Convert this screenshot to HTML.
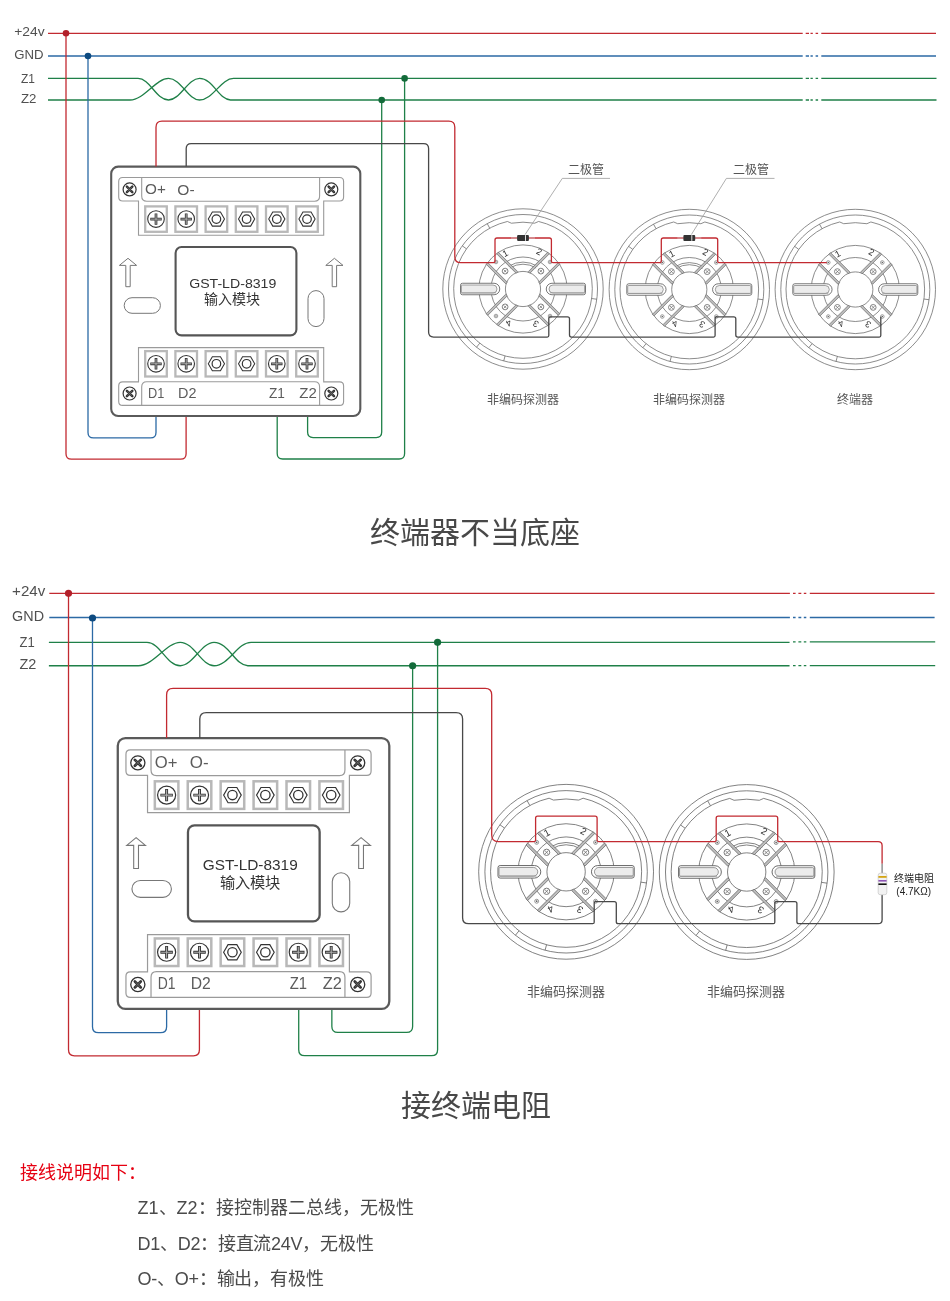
<!DOCTYPE html><html lang="zh-CN"><head><meta charset="utf-8"><title>wiring</title><style>html,body{margin:0;padding:0;background:#fff;}svg{display:block;will-change:transform}</style></head><body>
<svg width="950" height="1301" viewBox="0 0 950 1301">
<defs><g id="det"><circle r="80.2" fill="none" stroke="#666" stroke-width="0.75"/><circle r="74.5" fill="none" stroke="#666" stroke-width="0.75"/><path d="M15.59,-67.52 A69.30,69.30 0 1 1 -15.59,-67.52 L-11.60,-65.79 A66.80,66.80 0 0 1 11.60,-65.79 Z" fill="none" stroke="#666" stroke-width="0.75"/><line x1="-56.49" y1="-40.14" x2="-60.73" y2="-43.16" fill="none" stroke="#666" stroke-width="0.75"/><line x1="-33.28" y1="-60.79" x2="-35.78" y2="-65.35" fill="none" stroke="#666" stroke-width="0.75"/><line x1="68.64" y1="9.52" x2="73.79" y2="10.24" fill="none" stroke="#666" stroke-width="0.75"/><line x1="-17.94" y1="66.94" x2="-19.28" y2="71.96" fill="none" stroke="#666" stroke-width="0.75"/><line x1="-43.23" y1="54.16" x2="-46.48" y2="58.22" fill="none" stroke="#666" stroke-width="0.75"/><circle r="44.1" fill="none" stroke="#666" stroke-width="0.75"/><circle r="32" fill="none" stroke="#666" stroke-width="0.75"/><circle r="17.6" fill="#fff" stroke="#666" stroke-width="0.75"/><path d="M-13.14,-21.03 A24.80,24.80 0 0 1 13.14,-21.03" fill="none" stroke="#666" stroke-width="0.75"/><path d="M-14.25,-22.81 A26.90,26.90 0 0 1 14.25,-22.81" fill="none" stroke="#666" stroke-width="0.75"/><polygon points="-6.87,-15.71 -26.32,-35.16 -24.70,-36.79 -5.25,-17.34" fill="#bdbdbd" stroke="#555" stroke-width="0.6"/><polygon points="-17.34,-5.25 -36.79,-24.70 -35.16,-26.32 -15.71,-6.87" fill="#bdbdbd" stroke="#555" stroke-width="0.6"/><circle cx="-17.89" cy="-17.89" r="2.9" fill="#fff" stroke="#666" stroke-width="0.8"/><path d="M-19.39,-19.39 l3,3 m0,-3 l-3,3" stroke="#666" stroke-width="0.7"/><circle cx="-27.01" cy="-27.01" r="1.8" fill="#fff" stroke="#777" stroke-width="0.7"/><circle cx="-27.01" cy="-27.01" r="0.8" fill="#666"/><polygon points="15.71,-6.87 35.16,-26.32 36.79,-24.70 17.34,-5.25" fill="#bdbdbd" stroke="#555" stroke-width="0.6"/><polygon points="5.25,-17.34 24.70,-36.79 26.32,-35.16 6.87,-15.71" fill="#bdbdbd" stroke="#555" stroke-width="0.6"/><circle cx="17.89" cy="-17.89" r="2.9" fill="#fff" stroke="#666" stroke-width="0.8"/><path d="M16.39,-19.39 l3,3 m0,-3 l-3,3" stroke="#666" stroke-width="0.7"/><circle cx="27.01" cy="-27.01" r="1.8" fill="#fff" stroke="#777" stroke-width="0.7"/><circle cx="27.01" cy="-27.01" r="0.8" fill="#666"/><polygon points="6.87,15.71 26.32,35.16 24.70,36.79 5.25,17.34" fill="#bdbdbd" stroke="#555" stroke-width="0.6"/><polygon points="17.34,5.25 36.79,24.70 35.16,26.32 15.71,6.87" fill="#bdbdbd" stroke="#555" stroke-width="0.6"/><circle cx="17.89" cy="17.89" r="2.9" fill="#fff" stroke="#666" stroke-width="0.8"/><path d="M16.39,16.39 l3,3 m0,-3 l-3,3" stroke="#666" stroke-width="0.7"/><circle cx="27.01" cy="27.01" r="1.8" fill="#fff" stroke="#777" stroke-width="0.7"/><circle cx="27.01" cy="27.01" r="0.8" fill="#666"/><polygon points="-15.71,6.87 -35.16,26.32 -36.79,24.70 -17.34,5.25" fill="#bdbdbd" stroke="#555" stroke-width="0.6"/><polygon points="-5.25,17.34 -24.70,36.79 -26.32,35.16 -6.87,15.71" fill="#bdbdbd" stroke="#555" stroke-width="0.6"/><circle cx="-17.89" cy="17.89" r="2.9" fill="#fff" stroke="#666" stroke-width="0.8"/><path d="M-19.39,16.39 l3,3 m0,-3 l-3,3" stroke="#666" stroke-width="0.7"/><circle cx="-27.01" cy="27.01" r="1.8" fill="#fff" stroke="#777" stroke-width="0.7"/><circle cx="-27.01" cy="27.01" r="0.8" fill="#666"/><path d="M29,-5.75 H60.5 Q62.5,-5.75 62.5,-3.75 V3.75 Q62.5,5.75 60.5,5.75 H29 A5.75,5.75 0 0 1 29,-5.75 Z" fill="#fff" stroke="#555" stroke-width="0.8"/><path d="M30,-4 H60.6 Q61.6,-4 61.6,-3 V3 Q61.6,4 60.6,4 H30 A4,4 0 0 1 30,-4 Z" fill="#ececec" stroke="#666" stroke-width="0.6"/><path d="M27,3.9 H61.5" stroke="#999" stroke-width="0.8"/><g transform="scale(-1,1)"><path d="M29,-5.75 H60.5 Q62.5,-5.75 62.5,-3.75 V3.75 Q62.5,5.75 60.5,5.75 H29 A5.75,5.75 0 0 1 29,-5.75 Z" fill="#fff" stroke="#555" stroke-width="0.8"/><path d="M30,-4 H60.6 Q61.6,-4 61.6,-3 V3 Q61.6,4 60.6,4 H30 A4,4 0 0 1 30,-4 Z" fill="#ececec" stroke="#666" stroke-width="0.6"/><path d="M27,3.9 H61.5" stroke="#999" stroke-width="0.8"/></g><text transform="translate(-16.2,-33) rotate(-28)" font-family='"Liberation Sans", sans-serif' font-size="9" fill="#333" text-anchor="middle">1</text><text transform="translate(14.6,-34.5) rotate(28)" font-family='"Liberation Sans", sans-serif' font-size="9" fill="#333" text-anchor="middle">2</text><text transform="translate(-15.7,31.5) rotate(152)" font-family='"Liberation Sans", sans-serif' font-size="9" fill="#333" text-anchor="middle">4</text><text transform="translate(14.3,32) rotate(-152)" font-family='"Liberation Sans", sans-serif' font-size="9" fill="#333" text-anchor="middle">3</text></g><g id="det3"><circle r="80.2" fill="none" stroke="#666" stroke-width="0.75"/><circle r="74.5" fill="none" stroke="#666" stroke-width="0.75"/><path d="M15.59,-67.52 A69.30,69.30 0 1 1 -15.59,-67.52 L-11.60,-65.79 A66.80,66.80 0 0 1 11.60,-65.79 Z" fill="none" stroke="#666" stroke-width="0.75"/><line x1="-56.49" y1="-40.14" x2="-60.73" y2="-43.16" fill="none" stroke="#666" stroke-width="0.75"/><line x1="-33.28" y1="-60.79" x2="-35.78" y2="-65.35" fill="none" stroke="#666" stroke-width="0.75"/><line x1="68.64" y1="9.52" x2="73.79" y2="10.24" fill="none" stroke="#666" stroke-width="0.75"/><line x1="-17.94" y1="66.94" x2="-19.28" y2="71.96" fill="none" stroke="#666" stroke-width="0.75"/><line x1="-43.23" y1="54.16" x2="-46.48" y2="58.22" fill="none" stroke="#666" stroke-width="0.75"/><circle r="44.1" fill="none" stroke="#666" stroke-width="0.75"/><circle r="32" fill="none" stroke="#666" stroke-width="0.75"/><circle r="17.6" fill="#fff" stroke="#666" stroke-width="0.75"/><polygon points="-6.87,-15.71 -26.32,-35.16 -24.70,-36.79 -5.25,-17.34" fill="#bdbdbd" stroke="#555" stroke-width="0.6"/><polygon points="-17.34,-5.25 -36.79,-24.70 -35.16,-26.32 -15.71,-6.87" fill="#bdbdbd" stroke="#555" stroke-width="0.6"/><circle cx="-17.89" cy="-17.89" r="2.9" fill="#fff" stroke="#666" stroke-width="0.8"/><path d="M-19.39,-19.39 l3,3 m0,-3 l-3,3" stroke="#666" stroke-width="0.7"/><circle cx="-27.01" cy="-27.01" r="1.8" fill="#fff" stroke="#777" stroke-width="0.7"/><circle cx="-27.01" cy="-27.01" r="0.8" fill="#666"/><polygon points="15.71,-6.87 35.16,-26.32 36.79,-24.70 17.34,-5.25" fill="#bdbdbd" stroke="#555" stroke-width="0.6"/><polygon points="5.25,-17.34 24.70,-36.79 26.32,-35.16 6.87,-15.71" fill="#bdbdbd" stroke="#555" stroke-width="0.6"/><circle cx="17.89" cy="-17.89" r="2.9" fill="#fff" stroke="#666" stroke-width="0.8"/><path d="M16.39,-19.39 l3,3 m0,-3 l-3,3" stroke="#666" stroke-width="0.7"/><circle cx="27.01" cy="-27.01" r="1.8" fill="#fff" stroke="#777" stroke-width="0.7"/><circle cx="27.01" cy="-27.01" r="0.8" fill="#666"/><polygon points="6.87,15.71 26.32,35.16 24.70,36.79 5.25,17.34" fill="#bdbdbd" stroke="#555" stroke-width="0.6"/><polygon points="17.34,5.25 36.79,24.70 35.16,26.32 15.71,6.87" fill="#bdbdbd" stroke="#555" stroke-width="0.6"/><circle cx="17.89" cy="17.89" r="2.9" fill="#fff" stroke="#666" stroke-width="0.8"/><path d="M16.39,16.39 l3,3 m0,-3 l-3,3" stroke="#666" stroke-width="0.7"/><circle cx="27.01" cy="27.01" r="1.8" fill="#fff" stroke="#777" stroke-width="0.7"/><circle cx="27.01" cy="27.01" r="0.8" fill="#666"/><polygon points="-15.71,6.87 -35.16,26.32 -36.79,24.70 -17.34,5.25" fill="#bdbdbd" stroke="#555" stroke-width="0.6"/><polygon points="-5.25,17.34 -24.70,36.79 -26.32,35.16 -6.87,15.71" fill="#bdbdbd" stroke="#555" stroke-width="0.6"/><circle cx="-17.89" cy="17.89" r="2.9" fill="#fff" stroke="#666" stroke-width="0.8"/><path d="M-19.39,16.39 l3,3 m0,-3 l-3,3" stroke="#666" stroke-width="0.7"/><circle cx="-27.01" cy="27.01" r="1.8" fill="#fff" stroke="#777" stroke-width="0.7"/><circle cx="-27.01" cy="27.01" r="0.8" fill="#666"/><path d="M29,-5.75 H60.5 Q62.5,-5.75 62.5,-3.75 V3.75 Q62.5,5.75 60.5,5.75 H29 A5.75,5.75 0 0 1 29,-5.75 Z" fill="#fff" stroke="#555" stroke-width="0.8"/><path d="M30,-4 H60.6 Q61.6,-4 61.6,-3 V3 Q61.6,4 60.6,4 H30 A4,4 0 0 1 30,-4 Z" fill="#ececec" stroke="#666" stroke-width="0.6"/><path d="M27,3.9 H61.5" stroke="#999" stroke-width="0.8"/><g transform="scale(-1,1)"><path d="M29,-5.75 H60.5 Q62.5,-5.75 62.5,-3.75 V3.75 Q62.5,5.75 60.5,5.75 H29 A5.75,5.75 0 0 1 29,-5.75 Z" fill="#fff" stroke="#555" stroke-width="0.8"/><path d="M30,-4 H60.6 Q61.6,-4 61.6,-3 V3 Q61.6,4 60.6,4 H30 A4,4 0 0 1 30,-4 Z" fill="#ececec" stroke="#666" stroke-width="0.6"/><path d="M27,3.9 H61.5" stroke="#999" stroke-width="0.8"/></g><text transform="translate(-16.2,-33) rotate(-28)" font-family='"Liberation Sans", sans-serif' font-size="9" fill="#333" text-anchor="middle">1</text><text transform="translate(14.6,-34.5) rotate(28)" font-family='"Liberation Sans", sans-serif' font-size="9" fill="#333" text-anchor="middle">2</text><text transform="translate(-15.7,31.5) rotate(152)" font-family='"Liberation Sans", sans-serif' font-size="9" fill="#333" text-anchor="middle">4</text><text transform="translate(14.3,32) rotate(-152)" font-family='"Liberation Sans", sans-serif' font-size="9" fill="#333" text-anchor="middle">3</text></g><g id="mod"><g><rect x="111.20" y="166.60" width="249.10" height="249.40" rx="7" fill="#fff" stroke="#5a5a5a" stroke-width="2.1"/><path d="M122.7,177.5 H339.6 Q343.6,177.5 343.6,181.5 V197 Q343.6,201 339.6,201 H323.7 V235.3 H138.5 V201 H122.7 Q118.7,201 118.7,197 V181.5 Q118.7,177.5 122.7,177.5 Z" fill="none" stroke="#9a9a9a" stroke-width="1.1"/><path d="M141.7,177.5 V196 Q141.7,201.2 146.7,201.2 H314.6 Q319.6,201.2 319.6,196 V177.5" fill="none" stroke="#9a9a9a" stroke-width="1.1"/><path d="M122.7,405.40 H339.6 Q343.6,405.40 343.6,401.40 V385.90 Q343.6,381.90 339.6,381.90 H323.7 V347.60 H138.5 V381.90 H122.7 Q118.7,381.90 118.7,385.90 V401.40 Q118.7,405.40 122.7,405.40 Z" fill="none" stroke="#9a9a9a" stroke-width="1.1"/><path d="M141.7,405.40 V386.90 Q141.7,381.70 146.7,381.70 H314.6 Q319.6,381.70 319.6,386.90 V405.40" fill="none" stroke="#9a9a9a" stroke-width="1.1"/><circle cx="129.60" cy="189.40" r="6.5" fill="#fff" stroke="#333" stroke-width="1.2"/><path d="M126.90,186.70 L132.30,192.10 M126.90,192.10 L132.30,186.70" stroke="#333" stroke-width="2.5" stroke-linecap="round"/><path d="M127.40,187.20 L131.80,191.60 M127.40,191.60 L131.80,187.20" stroke="#777" stroke-width="0.7"/><circle cx="331.30" cy="189.40" r="6.5" fill="#fff" stroke="#333" stroke-width="1.2"/><path d="M328.60,186.70 L334.00,192.10 M328.60,192.10 L334.00,186.70" stroke="#333" stroke-width="2.5" stroke-linecap="round"/><path d="M329.10,187.20 L333.50,191.60 M329.10,191.60 L333.50,187.20" stroke="#777" stroke-width="0.7"/><circle cx="129.60" cy="393.50" r="6.5" fill="#fff" stroke="#333" stroke-width="1.2"/><path d="M126.90,390.80 L132.30,396.20 M126.90,396.20 L132.30,390.80" stroke="#333" stroke-width="2.5" stroke-linecap="round"/><path d="M127.40,391.30 L131.80,395.70 M127.40,395.70 L131.80,391.30" stroke="#777" stroke-width="0.7"/><circle cx="331.30" cy="393.50" r="6.5" fill="#fff" stroke="#333" stroke-width="1.2"/><path d="M328.60,390.80 L334.00,396.20 M328.60,396.20 L334.00,390.80" stroke="#333" stroke-width="2.5" stroke-linecap="round"/><path d="M329.10,391.30 L333.50,395.70 M329.10,395.70 L333.50,391.30" stroke="#777" stroke-width="0.7"/><rect x="145.20" y="206.40" width="21.6" height="25.4" fill="#fff" stroke="#b8b8b8" stroke-width="2.3"/><circle cx="156.00" cy="219.10" r="8.3" fill="#fff" stroke="#333" stroke-width="1.1"/><path d="M150.30,219.10 h11.4 M156.00,213.40 v11.4" stroke="#333" stroke-width="2.7"/><path d="M151.00,219.10 h10 M156.00,214.10 v10" stroke="#b0b0b0" stroke-width="1"/><rect x="145.20" y="351.10" width="21.6" height="25.4" fill="#fff" stroke="#b8b8b8" stroke-width="2.3"/><circle cx="156.00" cy="363.80" r="8.3" fill="#fff" stroke="#333" stroke-width="1.1"/><path d="M150.30,363.80 h11.4 M156.00,358.10 v11.4" stroke="#333" stroke-width="2.7"/><path d="M151.00,363.80 h10 M156.00,358.80 v10" stroke="#b0b0b0" stroke-width="1"/><rect x="175.40" y="206.40" width="21.6" height="25.4" fill="#fff" stroke="#b8b8b8" stroke-width="2.3"/><circle cx="186.20" cy="219.10" r="8.3" fill="#fff" stroke="#333" stroke-width="1.1"/><path d="M180.50,219.10 h11.4 M186.20,213.40 v11.4" stroke="#333" stroke-width="2.7"/><path d="M181.20,219.10 h10 M186.20,214.10 v10" stroke="#b0b0b0" stroke-width="1"/><rect x="175.40" y="351.10" width="21.6" height="25.4" fill="#fff" stroke="#b8b8b8" stroke-width="2.3"/><circle cx="186.20" cy="363.80" r="8.3" fill="#fff" stroke="#333" stroke-width="1.1"/><path d="M180.50,363.80 h11.4 M186.20,358.10 v11.4" stroke="#333" stroke-width="2.7"/><path d="M181.20,363.80 h10 M186.20,358.80 v10" stroke="#b0b0b0" stroke-width="1"/><rect x="205.60" y="206.40" width="21.6" height="25.4" fill="#fff" stroke="#b8b8b8" stroke-width="2.3"/><polygon points="208.30,219.10 212.35,212.09 220.45,212.09 224.50,219.10 220.45,226.11 212.35,226.11" fill="#fff" stroke="#333" stroke-width="1.05"/><circle cx="216.40" cy="219.10" r="4.3" fill="none" stroke="#333" stroke-width="1.2"/><rect x="205.60" y="351.10" width="21.6" height="25.4" fill="#fff" stroke="#b8b8b8" stroke-width="2.3"/><polygon points="208.30,363.80 212.35,356.79 220.45,356.79 224.50,363.80 220.45,370.81 212.35,370.81" fill="#fff" stroke="#333" stroke-width="1.05"/><circle cx="216.40" cy="363.80" r="4.3" fill="none" stroke="#333" stroke-width="1.2"/><rect x="235.80" y="206.40" width="21.6" height="25.4" fill="#fff" stroke="#b8b8b8" stroke-width="2.3"/><polygon points="238.50,219.10 242.55,212.09 250.65,212.09 254.70,219.10 250.65,226.11 242.55,226.11" fill="#fff" stroke="#333" stroke-width="1.05"/><circle cx="246.60" cy="219.10" r="4.3" fill="none" stroke="#333" stroke-width="1.2"/><rect x="235.80" y="351.10" width="21.6" height="25.4" fill="#fff" stroke="#b8b8b8" stroke-width="2.3"/><polygon points="238.50,363.80 242.55,356.79 250.65,356.79 254.70,363.80 250.65,370.81 242.55,370.81" fill="#fff" stroke="#333" stroke-width="1.05"/><circle cx="246.60" cy="363.80" r="4.3" fill="none" stroke="#333" stroke-width="1.2"/><rect x="266.00" y="206.40" width="21.6" height="25.4" fill="#fff" stroke="#b8b8b8" stroke-width="2.3"/><polygon points="268.70,219.10 272.75,212.09 280.85,212.09 284.90,219.10 280.85,226.11 272.75,226.11" fill="#fff" stroke="#333" stroke-width="1.05"/><circle cx="276.80" cy="219.10" r="4.3" fill="none" stroke="#333" stroke-width="1.2"/><rect x="266.00" y="351.10" width="21.6" height="25.4" fill="#fff" stroke="#b8b8b8" stroke-width="2.3"/><circle cx="276.80" cy="363.80" r="8.3" fill="#fff" stroke="#333" stroke-width="1.1"/><path d="M271.10,363.80 h11.4 M276.80,358.10 v11.4" stroke="#333" stroke-width="2.7"/><path d="M271.80,363.80 h10 M276.80,358.80 v10" stroke="#b0b0b0" stroke-width="1"/><rect x="296.20" y="206.40" width="21.6" height="25.4" fill="#fff" stroke="#b8b8b8" stroke-width="2.3"/><polygon points="298.90,219.10 302.95,212.09 311.05,212.09 315.10,219.10 311.05,226.11 302.95,226.11" fill="#fff" stroke="#333" stroke-width="1.05"/><circle cx="307.00" cy="219.10" r="4.3" fill="none" stroke="#333" stroke-width="1.2"/><rect x="296.20" y="351.10" width="21.6" height="25.4" fill="#fff" stroke="#b8b8b8" stroke-width="2.3"/><circle cx="307.00" cy="363.80" r="8.3" fill="#fff" stroke="#333" stroke-width="1.1"/><path d="M301.30,363.80 h11.4 M307.00,358.10 v11.4" stroke="#333" stroke-width="2.7"/><path d="M302.00,363.80 h10 M307.00,358.80 v10" stroke="#b0b0b0" stroke-width="1"/><text x="145.11" y="193.80" textLength="20.78" lengthAdjust="spacingAndGlyphs" font-family='"Liberation Sans", sans-serif' font-size="14.80" fill="#5c5c5c" >O+</text><text x="177.31" y="194.60" textLength="17.28" lengthAdjust="spacingAndGlyphs" font-family='"Liberation Sans", sans-serif' font-size="14.80" fill="#5c5c5c" >O-</text><text x="147.94" y="398.00" textLength="16.33" lengthAdjust="spacingAndGlyphs" font-family='"Liberation Sans", sans-serif' font-size="14.40" fill="#5c5c5c" >D1</text><text x="178.04" y="398.00" textLength="18.43" lengthAdjust="spacingAndGlyphs" font-family='"Liberation Sans", sans-serif' font-size="14.40" fill="#5c5c5c" >D2</text><text x="268.94" y="398.00" textLength="15.93" lengthAdjust="spacingAndGlyphs" font-family='"Liberation Sans", sans-serif' font-size="14.40" fill="#5c5c5c" >Z1</text><text x="299.24" y="398.00" textLength="17.53" lengthAdjust="spacingAndGlyphs" font-family='"Liberation Sans", sans-serif' font-size="14.40" fill="#5c5c5c" >Z2</text><path d="M128.00,258.3 L136.60,265.4 H130.20 V286.7 H125.80 V265.4 H119.40 Z" fill="none" stroke="#777" stroke-width="1"/><path d="M334.40,258.3 L343.00,265.4 H336.60 V286.7 H332.20 V265.4 H325.80 Z" fill="none" stroke="#777" stroke-width="1"/><rect x="124.2" y="297.7" width="36.2" height="15.6" rx="7.8" fill="none" stroke="#777" stroke-width="1"/><rect x="308" y="290.6" width="16" height="36" rx="8" fill="none" stroke="#777" stroke-width="1"/><rect x="175.6" y="247" width="120.8" height="88.4" rx="6" fill="#fff" stroke="#555" stroke-width="2.1"/><text x="189.18" y="288.00" textLength="87.13" lengthAdjust="spacingAndGlyphs" font-family='"Liberation Sans", sans-serif' font-size="13.60" fill="#333" >GST-LD-8319</text><text x="232.40" y="304.20" text-anchor="middle" font-family='"Liberation Sans", sans-serif' font-size="14.00" fill="#333" >输入模块</text></g></g></defs>
<path d="M48,33.30 H802.7 M821.3,33.30 H936" stroke="#c22a31" stroke-width="1.30" fill="none"/>
<path d="M805.7,33.30 H809 M810.5,33.30 H812.8 M815.6,33.30 H818.1" stroke="#c22a31" stroke-width="1.30"/>
<path d="M48,56.00 H802.7 M821.3,56.00 H936" stroke="#2c6aa5" stroke-width="1.30" fill="none"/>
<path d="M805.7,56.00 H809 M810.5,56.00 H812.8 M815.6,56.00 H818.1" stroke="#2c6aa5" stroke-width="1.30"/>
<path d="M48,78.4 H138 C150,78.4 156,100 168.5,100 C180,100 188,78.4 199.5,78.4 C213,78.4 219,100 230.5,100 H802.7" stroke="#1f8048" stroke-width="1.30" fill="none"/>
<path d="M48,100 H130 C144,100 156,78.4 168.5,78.4 C181,78.4 188,100 199.5,100 C213,100 221,78.4 233.5,78.4 H802.7" stroke="#1f8048" stroke-width="1.30" fill="none"/>
<path d="M821.3,78.40 H936.5 M805.7,78.40 H809 M810.5,78.40 H812.8 M815.6,78.40 H818.1" stroke="#1f8048" stroke-width="1.30" fill="none"/>
<path d="M821.3,100.00 H936.5 M805.7,100.00 H809 M810.5,100.00 H812.8 M815.6,100.00 H818.1" stroke="#1f8048" stroke-width="1.30" fill="none"/>
<text x="14.27" y="35.90" textLength="30.41" lengthAdjust="spacingAndGlyphs" font-family='"Liberation Sans", sans-serif' font-size="13.00" fill="#505050" >+24v</text><text x="14.27" y="58.90" textLength="29.31" lengthAdjust="spacingAndGlyphs" font-family='"Liberation Sans", sans-serif' font-size="13.00" fill="#505050" >GND</text><text x="21.02" y="82.90" textLength="13.96" lengthAdjust="spacingAndGlyphs" font-family='"Liberation Sans", sans-serif' font-size="13.00" fill="#505050" >Z1</text><text x="21.02" y="102.90" textLength="15.46" lengthAdjust="spacingAndGlyphs" font-family='"Liberation Sans", sans-serif' font-size="13.00" fill="#505050" >Z2</text><path d="M66.00,33.30 L66.00,453.70 Q66.00,459.20 71.50,459.20 L180.60,459.20 Q186.10,459.20 186.10,453.70 L186.10,416.00" stroke="#c22a31" stroke-width="1.30" fill="none"/><path d="M88.00,56.00 L88.00,432.40 Q88.00,437.90 93.50,437.90 L150.50,437.90 Q156.00,437.90 156.00,432.40 L156.00,416.00" stroke="#2c6aa5" stroke-width="1.30" fill="none"/><path d="M404.60,78.40 L404.60,453.50 Q404.60,459.00 399.10,459.00 L282.70,459.00 Q277.20,459.00 277.20,453.50 L277.20,416.00" stroke="#1f8048" stroke-width="1.30" fill="none"/><path d="M381.70,100.00 L381.70,432.10 Q381.70,437.60 376.20,437.60 L313.10,437.60 Q307.60,437.60 307.60,432.10 L307.60,416.00" stroke="#1f8048" stroke-width="1.30" fill="none"/><circle cx="66" cy="33.3" r="3.3" fill="#b3202a"/><circle cx="88" cy="56" r="3.3" fill="#0d4a80"/><circle cx="404.6" cy="78.4" r="3.3" fill="#136b3a"/><circle cx="381.7" cy="100" r="3.3" fill="#136b3a"/><use href="#mod"/>
<use href="#det" transform="translate(523.00,289.00) scale(1.000)"/>
<use href="#det" transform="translate(689.30,289.50) scale(1.000)"/>
<use href="#det3" transform="translate(855.30,289.50) scale(1.000)"/>
<path d="M156.00,166.60 L156.00,127.20 Q156.00,121.20 162.00,121.20 L448.80,121.20 Q454.80,121.20 454.80,127.20 L454.80,256.70 Q454.80,262.70 460.80,262.70 L493.50,262.70 Q495.00,262.70 495.00,261.20 L495.00,240.00 Q495.00,238.00 497.00,238.00 L549.40,238.00 Q551.40,238.00 551.40,240.00 L551.40,261.20 Q551.40,262.70 552.90,262.70 L659.80,262.70 Q661.30,262.70 661.30,261.20 L661.30,240.00 Q661.30,238.00 663.30,238.00 L715.70,238.00 Q717.70,238.00 717.70,240.00 L717.70,261.20 Q717.70,262.70 719.20,262.70 L826.80,262.70" stroke="#c22a31" stroke-width="1.30" fill="none"/>
<path d="M186.20,166.60 L186.20,148.60 Q186.20,143.60 191.20,143.60 L423.60,143.60 Q428.60,143.60 428.60,148.60 L428.60,332.10 Q428.60,337.10 433.60,337.10 L547.30,337.10 Q548.80,337.10 548.80,335.60 L548.80,318.30 Q548.80,316.80 550.30,316.80 L567.50,316.80 Q569.50,316.80 569.50,318.80 L569.50,335.10 Q569.50,337.10 571.50,337.10 L713.60,337.10 Q715.10,337.10 715.10,335.60 L715.10,318.30 Q715.10,316.80 716.60,316.80 L733.80,316.80 Q735.80,316.80 735.80,318.80 L735.80,335.10 Q735.80,337.10 737.80,337.10 L879.30,337.10 Q880.80,337.10 880.80,335.60 L880.80,316.80" stroke="#484848" stroke-width="1.30" fill="none"/>
<path d="M511.00,238.00 H535.00" stroke="#d9a0a4" stroke-width="1.3"/><rect x="517.10" y="235.10" width="11.8" height="5.8" rx="1" fill="#333"/><rect x="525.00" y="235.10" width="1" height="5.8" fill="#ddd"/>
<path d="M677.30,238.00 H701.30" stroke="#d9a0a4" stroke-width="1.3"/><rect x="683.40" y="235.10" width="11.8" height="5.8" rx="1" fill="#333"/><rect x="691.30" y="235.10" width="1" height="5.8" fill="#ddd"/>
<path d="M525.1,234.5 L562.3,178.4 H610" stroke="#9a9a9a" stroke-width="0.8" fill="none"/>
<path d="M691.4,234.5 L726.4,178.4 H774.5" stroke="#9a9a9a" stroke-width="0.8" fill="none"/>
<text x="586.00" y="173.80" text-anchor="middle" font-family='"Liberation Sans", sans-serif' font-size="12.00" fill="#555" >二极管</text>
<text x="751.00" y="173.80" text-anchor="middle" font-family='"Liberation Sans", sans-serif' font-size="12.00" fill="#555" >二极管</text>
<text x="523.00" y="403.80" text-anchor="middle" font-family='"Liberation Sans", sans-serif' font-size="12.00" fill="#555" >非编码探测器</text>
<text x="689.30" y="403.80" text-anchor="middle" font-family='"Liberation Sans", sans-serif' font-size="12.00" fill="#555" >非编码探测器</text>
<text x="855.30" y="403.80" text-anchor="middle" font-family='"Liberation Sans", sans-serif' font-size="12.00" fill="#555" >终端器</text>
<text x="475.00" y="543.00" text-anchor="middle" font-family='"Liberation Sans", sans-serif' font-size="30.00" fill="#484848" >终端器不当底座</text>
<path d="M49.3,593.30 H789.9 M809.8,593.30 H934.6" stroke="#c22a31" stroke-width="1.30" fill="none"/>
<path d="M793,593.30 H795.6 M798.4,593.30 H801.3 M803.8,593.30 H806.3" stroke="#c22a31" stroke-width="1.30"/>
<path d="M49.3,617.50 H789.9 M809.8,617.50 H934.6" stroke="#2c6aa5" stroke-width="1.30" fill="none"/>
<path d="M793,617.50 H795.6 M798.4,617.50 H801.3 M803.8,617.50 H806.3" stroke="#2c6aa5" stroke-width="1.30"/>
<path d="M809.8,641.90 H935.2 M793,641.90 H795.6 M798.4,641.90 H801.3 M803.8,641.90 H806.3" stroke="#1f8048" stroke-width="1.30" fill="none"/>
<path d="M809.8,665.60 H935.2 M793,665.60 H795.6 M798.4,665.60 H801.3 M803.8,665.60 H806.3" stroke="#1f8048" stroke-width="1.30" fill="none"/>
<g transform="matrix(1.09,0,0,1.086,-3.43,557.15)">
<path d="M48,78.4 H138 C150,78.4 156,100 168.5,100 C180,100 188,78.4 199.5,78.4 C213,78.4 219,100 230.5,100 H727.5" stroke="#1f8048" stroke-width="1.19" fill="none"/>
<path d="M48,100 H130 C144,100 156,78.4 168.5,78.4 C181,78.4 188,100 199.5,100 C213,100 221,78.4 233.5,78.4 H727.5" stroke="#1f8048" stroke-width="1.19" fill="none"/>
<text x="14.27" y="35.90" textLength="30.41" lengthAdjust="spacingAndGlyphs" font-family='"Liberation Sans", sans-serif' font-size="13.00" fill="#505050" >+24v</text><text x="14.27" y="58.90" textLength="29.31" lengthAdjust="spacingAndGlyphs" font-family='"Liberation Sans", sans-serif' font-size="13.00" fill="#505050" >GND</text><text x="21.02" y="82.90" textLength="13.96" lengthAdjust="spacingAndGlyphs" font-family='"Liberation Sans", sans-serif' font-size="13.00" fill="#505050" >Z1</text><text x="21.02" y="102.90" textLength="15.46" lengthAdjust="spacingAndGlyphs" font-family='"Liberation Sans", sans-serif' font-size="13.00" fill="#505050" >Z2</text><path d="M66.00,33.30 L66.00,453.70 Q66.00,459.20 71.50,459.20 L180.60,459.20 Q186.10,459.20 186.10,453.70 L186.10,416.00" stroke="#c22a31" stroke-width="1.19" fill="none"/><path d="M88.00,56.00 L88.00,432.40 Q88.00,437.90 93.50,437.90 L150.50,437.90 Q156.00,437.90 156.00,432.40 L156.00,416.00" stroke="#2c6aa5" stroke-width="1.19" fill="none"/><path d="M404.60,78.40 L404.60,453.50 Q404.60,459.00 399.10,459.00 L282.70,459.00 Q277.20,459.00 277.20,453.50 L277.20,416.00" stroke="#1f8048" stroke-width="1.19" fill="none"/><path d="M381.70,100.00 L381.70,432.10 Q381.70,437.60 376.20,437.60 L313.10,437.60 Q307.60,437.60 307.60,432.10 L307.60,416.00" stroke="#1f8048" stroke-width="1.19" fill="none"/><circle cx="66" cy="33.3" r="3.3" fill="#b3202a"/><circle cx="88" cy="56" r="3.3" fill="#0d4a80"/><circle cx="404.6" cy="78.4" r="3.3" fill="#136b3a"/><circle cx="381.7" cy="100" r="3.3" fill="#136b3a"/><use href="#mod"/>
</g>
<use href="#det" transform="translate(566.10,871.80) scale(1.090)"/>
<use href="#det" transform="translate(746.70,872.00) scale(1.090)"/>
<path d="M166.60,737.90 L166.60,694.90 Q166.60,688.40 173.10,688.40 L485.20,688.40 Q491.70,688.40 491.70,694.90 L491.70,835.10 Q491.70,841.60 498.20,841.60 L534.10,841.60 Q535.60,841.60 535.60,840.10 L535.60,818.20 Q535.60,816.20 537.60,816.20 L595.10,816.20 Q597.10,816.20 597.10,818.20 L597.10,840.10 Q597.10,841.60 598.60,841.60 L714.70,841.60 Q716.20,841.60 716.20,840.10 L716.20,818.20 Q716.20,816.20 718.20,816.20 L775.70,816.20 Q777.70,816.20 777.70,818.20 L777.70,840.10 Q777.70,841.60 779.20,841.60 L878.10,841.60 Q882.10,841.60 882.10,845.60 L882.10,863.70" stroke="#c22a31" stroke-width="1.30" fill="none"/>
<path d="M199.80,737.90 L199.80,719.10 Q199.80,712.60 206.30,712.60 L456.10,712.60 Q462.60,712.60 462.60,719.10 L462.60,917.70 Q462.60,923.70 468.60,923.70 L592.70,923.70 Q594.20,923.70 594.20,922.20 L594.20,903.10 Q594.20,901.60 595.70,901.60 L614.30,901.60 Q616.30,901.60 616.30,903.60 L616.30,921.70 Q616.30,923.70 618.30,923.70 L773.30,923.70 Q774.80,923.70 774.80,922.20 L774.80,903.10 Q774.80,901.60 776.30,901.60 L794.90,901.60 Q796.90,901.60 796.90,903.60 L796.90,921.70 Q796.90,923.70 798.90,923.70 L878.10,923.70 Q882.10,923.70 882.10,919.70 L882.10,894.70" stroke="#484848" stroke-width="1.30" fill="none"/>
<path d="M882.1,863.7 V873.2" stroke="#777" stroke-width="1.2"/>
<rect x="878.2" y="873.2" width="8.6" height="21.5" rx="2" fill="#f2f2f2" stroke="#ccc" stroke-width="0.8"/>
<rect x="878.4" y="876" width="8.2" height="1.8" fill="#d4a514"/>
<rect x="878.4" y="880" width="8.2" height="1.6" fill="#8e55b5"/>
<rect x="878.4" y="883.4" width="8.2" height="1.6" fill="#111"/>
<text x="914.00" y="882.30" text-anchor="middle" font-family='"Liberation Sans", sans-serif' font-size="10.00" fill="#222" >终端电阻</text>
<text x="913.70" y="894.50" text-anchor="middle" font-family='"Liberation Sans", sans-serif' font-size="10.00" fill="#222" >(4.7KΩ)</text>
<text x="566.00" y="996.00" text-anchor="middle" font-family='"Liberation Sans", sans-serif' font-size="13.00" fill="#555" >非编码探测器</text>
<text x="746.00" y="996.00" text-anchor="middle" font-family='"Liberation Sans", sans-serif' font-size="13.00" fill="#555" >非编码探测器</text>
<text x="476.00" y="1116.00" text-anchor="middle" font-family='"Liberation Sans", sans-serif' font-size="30.00" fill="#484848" >接终端电阻</text>
<text x="20" y="1178.6" font-family='"Liberation Sans", sans-serif' font-size="18" fill="#e60012">接线说明如下：</text>
<text x="137.5" y="1213.5" font-family='"Liberation Sans", sans-serif' font-size="18" fill="#4a4a4a">Z1、Z2：接控制器二总线，无极性</text>
<text x="137.5" y="1249.8" textLength="236" lengthAdjust="spacing" font-family='"Liberation Sans", sans-serif' font-size="18" fill="#4a4a4a">D1、D2：接直流24V，无极性</text>
<text x="137.5" y="1285" textLength="186" lengthAdjust="spacing" font-family='"Liberation Sans", sans-serif' font-size="18" fill="#4a4a4a">O-、O+：输出，有极性</text>
</svg></body></html>
